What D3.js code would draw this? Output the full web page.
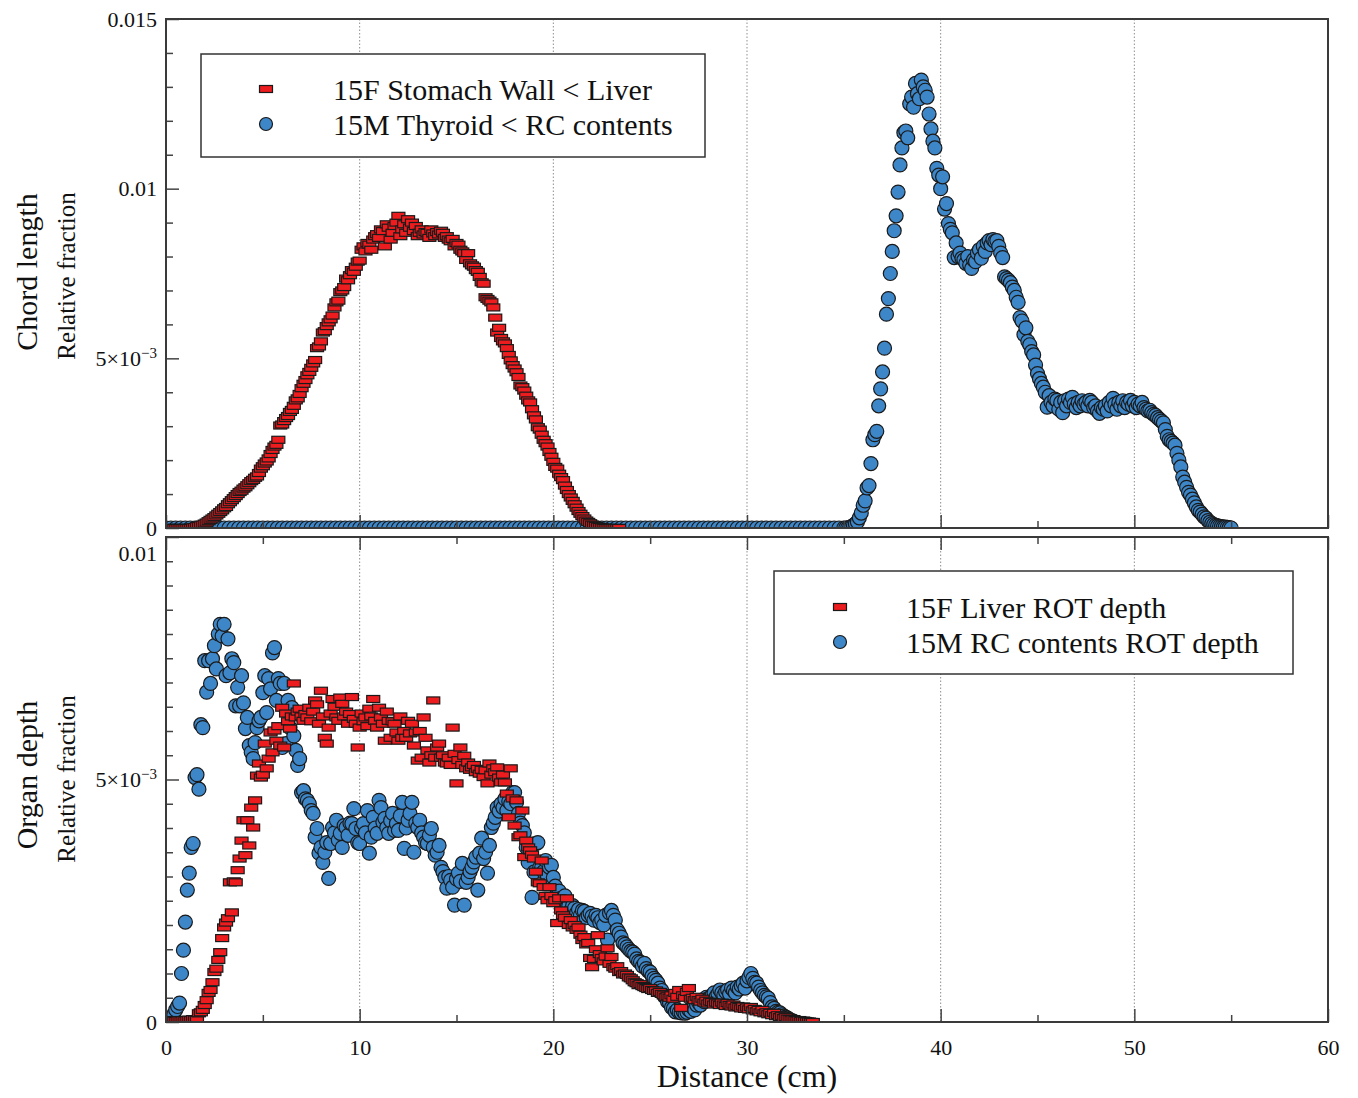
<!DOCTYPE html>
<html>
<head>
<meta charset="utf-8">
<script src="https://cdn.jsdelivr.net/npm/d3@7"></script>
<style>
  body { margin: 0; background: #fff; }
  svg text { font-family: "Liberation Serif", "Times New Roman", serif; fill: #111; }
</style>
</head>
<body>
<div id="chart"></div>
<script>
// ---- data (relative fraction in units of 1e-3, bins of 0.1 cm unless noted) ----
const xTickValues = [0, 10, 20, 30, 40, 50, 60];
const xMinorTicks = [5, 15, 25, 35, 45, 55];
const gridValues = [10, 20, 30, 40, 50];

const topYTicks = [0, 5, 10, 15];
const topYLabels = ["0", "5×10^−3", "0.01", "0.015"];
const topYMinor = [1, 2, 3, 4, 6, 7, 8, 9, 11, 12, 13, 14];
const bottomYTicks = [0, 5, 10];
const bottomYLabels = ["0", "5×10^−3", "0.01"];
const bottomYMinor = [0.5, 1, 1.5, 2, 2.5, 3, 3.5, 4, 4.5, 5.5, 6, 6.5, 7, 7.5, 8, 8.5, 9, 9.5];

const topLegend = ["15F Stomach Wall < Liver", "15M Thyroid < RC contents"];
const bottomLegend = ["15F Liver ROT depth", "15M RC contents ROT depth"];

const binStep = 0.1;

// chord length, 15F stomach wall < liver (x from 0.0)
const topRedStart = 0;
const topRed = [
  0, 0, 0, 0, 0, 0, 0, 0, 0, 0,
  0, 0, 0, 0, 0.02, 0.03, 0.05, 0.06, 0.08, 0.1,
  0.13, 0.16, 0.2, 0.24, 0.28, 0.32, 0.37, 0.42, 0.47, 0.52,
  0.58, 0.62, 0.7, 0.76, 0.82, 0.88, 0.94, 1.0, 1.06, 1.1,
  1.16, 1.2, 1.26, 1.32, 1.38, 1.42, 1.48, 1.52, 1.62, 1.75,
  1.82, 1.9, 1.96, 2.05, 2.18, 2.3, 2.4, 2.45, 2.6, 3.02,
  3.05, 3.15, 3.24, 3.3, 3.42, 3.48, 3.6, 3.76, 3.82, 3.95,
  4.12, 4.25, 4.36, 4.5, 4.6, 4.72, 4.85, 4.95, 5.3, 5.35,
  5.5, 5.76, 5.8, 5.95, 6.06, 6.15, 6.26, 6.5, 6.65, 6.7,
  6.95, 7.0, 7.1, 7.35, 7.3, 7.45, 7.6, 7.55, 7.7, 7.85,
  7.88, 8.2, 8.3, 8.15, 8.4, 8.35, 8.2, 8.5, 8.6, 8.66,
  8.55, 8.8, 8.75, 8.3, 8.95, 8.85, 8.5, 8.7, 8.9, 9.0,
  9.2, 8.6, 8.8, 8.95, 8.7, 9.1, 8.85, 9.0, 8.75, 8.9,
  8.6, 8.7, 8.8, 8.65, 8.72, 8.7, 8.55, 8.8, 8.68, 8.6,
  8.72, 8.65, 8.76, 8.7, 8.55, 8.6, 8.5, 8.45, 8.52, 8.3,
  8.4, 8.35, 8.2, 8.15, 8.1, 7.9, 8.1, 7.8, 7.74, 7.7,
  7.6, 7.55, 7.4, 7.24, 7.2, 6.8, 6.75, 6.7, 6.65, 6.5,
  6.2, 5.76, 5.9, 5.6, 5.5, 5.44, 5.3, 5.1, 4.94, 4.8,
  4.7, 4.59, 4.45, 4.2, 4.15, 4.05, 3.9, 3.76, 3.7, 3.5,
  3.32, 3.2, 2.97, 2.9, 2.75, 2.6, 2.5, 2.4, 2.24, 2.1,
  1.95, 1.8, 1.75, 1.6, 1.5, 1.41, 1.25, 1.12, 1.0, 0.9,
  0.8, 0.7, 0.6, 0.5, 0.42, 0.35, 0.28, 0.22, 0.18, 0.14,
  0.1, 0.08, 0.06, 0.04, 0.03, 0.02, 0.01, 0, 0, 0,
  0, 0, 0, 0, 0
];

// chord length, 15M thyroid < RC contents: empty bins 0-34.75 cm (0.25 cm apart), then from 35.0
const topBlueBaseStart = 0;
const topBlueBaseStep = 0.25;
const topBlueBase = [
  0, 0, 0, 0, 0, 0, 0, 0, 0, 0, 0, 0, 0, 0, 0, 0, 0, 0, 0, 0,
  0, 0, 0, 0, 0, 0, 0, 0, 0, 0, 0, 0, 0, 0, 0, 0, 0, 0, 0, 0,
  0, 0, 0, 0, 0, 0, 0, 0, 0, 0, 0, 0, 0, 0, 0, 0, 0, 0, 0, 0,
  0, 0, 0, 0, 0, 0, 0, 0, 0, 0, 0, 0, 0, 0, 0, 0, 0, 0, 0, 0,
  0, 0, 0, 0, 0, 0, 0, 0, 0, 0, 0, 0, 0, 0, 0, 0, 0, 0, 0, 0,
  0, 0, 0, 0, 0, 0, 0, 0, 0, 0, 0, 0, 0, 0, 0, 0, 0, 0, 0, 0,
  0, 0, 0, 0, 0, 0, 0, 0, 0, 0, 0, 0, 0, 0, 0, 0, 0, 0, 0, 0
];
const topBlueStart = 35;
const topBlue = [
  0, 0, 0, 0.02, 0.04, 0.08, 0.12, 0.18, 0.3, 0.44,
  0.67, 0.8, 1.18, 1.25, 1.9, 2.6, 2.75, 2.85, 3.6, 4.1,
  4.6, 5.3, 6.3, 6.76, 7.5, 8.15, 8.76, 9.2, 9.9, 10.7,
  11.2, 11.65, 11.7, 11.5, 12.5, 12.7, 12.4, 13.1, 12.8, 12.65,
  13.2, 13.0, 12.9, 12.7, 12.2, 11.76, 11.4, 11.2, 10.6, 10.4,
  10.0, 10.35, 9.4, 9.56, 8.97, 8.8, 8.7, 7.97, 8.4, 8.0,
  8.1, 7.95, 7.9, 7.8, 8.0, 7.75, 7.65, 7.9, 7.85, 8.1,
  8.2, 7.95, 8.3, 8.15, 8.4, 8.47, 8.35, 8.5, 8.45, 8.47,
  8.3, 8.1, 7.97, 7.4, 7.35, 7.3, 7.23, 7.1, 7.0, 6.8,
  6.65, 6.2, 6.1, 5.7, 5.9, 5.5, 5.4, 5.2, 5.1, 4.8,
  4.55, 4.4, 4.26, 4.15, 4.0, 3.56, 3.9, 3.7, 3.6, 3.8,
  3.76, 3.5, 3.7, 3.4, 3.75, 3.6, 3.8, 3.7, 3.85, 3.65,
  3.55, 3.7, 3.6, 3.75, 3.65, 3.7, 3.6, 3.76, 3.7, 3.55,
  3.6, 3.45, 3.38, 3.55, 3.5, 3.6, 3.45, 3.7, 3.6, 3.82,
  3.65, 3.5, 3.7, 3.6, 3.75, 3.55, 3.7, 3.65, 3.76, 3.6,
  3.7, 3.55, 3.65, 3.6, 3.7, 3.55, 3.5, 3.45, 3.47, 3.4,
  3.35, 3.32, 3.25, 3.2, 3.15, 3.1, 2.9, 2.7, 2.6, 2.55,
  2.5, 2.44, 2.2, 2.0, 1.8, 1.5, 1.35, 1.2, 1.05, 0.97,
  0.85, 0.74, 0.62, 0.52, 0.47, 0.4, 0.33, 0.29, 0.22, 0.17,
  0.13, 0.1, 0.08, 0.06, 0.05, 0.04, 0.03, 0.03, 0.02, 0.01,
  0
];

// organ depth, 15F liver ROT depth (x from 0.0)
const bottomRedStart = 0;
const bottomRed = [
  0.02, 0.03, 0.04, 0.02, 0.03, 0.02, 0.03, 0.04, 0.03, 0.04,
  0.03, 0.04, 0.05, 0.04, 0.06, 0.05, 0.04, 0.18, 0.2, 0.25,
  0.35, 0.45, 0.6, 0.66, 0.82, 1.03, 1.1, 1.28, 1.44, 1.73,
  1.95, 2.05, 2.14, 2.88, 2.26, 2.9, 2.88, 3.13, 3.37, 3.74,
  4.16, 3.44, 4.16, 3.64, 4.42, 4.01, 4.57, 5.08, 5.33, 5.04,
  5.1, 5.74, 5.23, 5.43, 5.97, 5.56, 6.01, 5.8, 6.1, 5.7,
  6.48, 5.66, 6.36, 6.2, 6.05, 6.3, 6.98, 6.28, 6.4, 6.46,
  6.3, 6.21, 6.35, 6.28, 6.48, 6.2, 6.4, 6.63, 6.55, 6.15,
  6.83, 6.3, 5.86, 5.74, 6.07, 6.36, 6.66, 6.5, 6.28, 6.21,
  6.69, 6.56, 6.3, 6.4, 6.15, 6.35, 6.7, 6.25, 6.15, 5.66,
  6.07, 6.36, 6.2, 6.28, 6.1, 6.46, 6.3, 6.66, 6.21, 6.07,
  6.48, 6.28, 6.15, 5.8, 6.4, 6.21, 5.86, 6.2, 6.15, 5.97,
  5.8, 6.3, 5.86, 6.0, 5.86, 6.21, 5.95, 6.15, 5.7, 5.97,
  5.39, 6.0, 5.45, 6.28, 5.86, 5.6, 5.35, 5.5, 6.63, 5.45,
  5.66, 5.74, 5.45, 5.5, 5.35, 5.33, 5.45, 5.3, 6.07, 5.53,
  4.92, 5.4, 5.66, 5.3, 5.49, 5.23, 5.35, 5.2, 5.25, 5.3,
  5.15, 5.22, 5.12, 5.2, 5.05, 5.19, 4.92, 5.33, 5.1, 5.23,
  5.15, 5.25, 5.04, 4.94, 5.1, 4.94, 4.71, 4.22, 5.23, 4.61,
  4.05, 4.57, 3.81, 3.85, 4.36, 3.4, 3.74, 3.6, 3.54, 3.45,
  3.37, 3.1, 2.88, 2.86, 3.33, 2.78, 2.6, 2.51, 2.78, 2.6,
  2.45, 2.51, 2.04, 2.55, 2.3, 2.2, 2.15, 2.55, 2.0, 2.1,
  1.95, 2.0, 1.9, 1.95, 1.8, 1.69, 1.75, 1.6, 1.63, 1.32,
  1.13, 1.3, 1.5, 1.79, 1.4, 1.32, 1.25, 1.35, 1.52, 1.2,
  1.34, 1.13, 1.1, 1.15, 1.03, 1.05, 0.98, 1.0, 0.97, 0.92,
  0.9, 0.86, 0.82, 0.8, 0.76, 0.78, 0.74, 0.72, 0.7, 0.68,
  0.7, 0.66, 0.64, 0.65, 0.6, 0.62, 0.58, 0.55, 0.51, 0.53,
  0.5, 0.55, 0.48, 0.6, 0.52, 0.66, 0.29, 0.55, 0.5, 0.62,
  0.7, 0.48, 0.5, 0.45, 0.52, 0.45, 0.42, 0.48, 0.4, 0.44,
  0.38, 0.42, 0.41, 0.36, 0.4, 0.38, 0.35, 0.4, 0.36, 0.33,
  0.39, 0.35, 0.32, 0.36, 0.3, 0.33, 0.31, 0.28, 0.32, 0.27,
  0.3, 0.26, 0.31, 0.24, 0.27, 0.22, 0.25, 0.2, 0.25, 0.18,
  0.2, 0.16, 0.19, 0.14, 0.19, 0.12, 0.14, 0.1, 0.12, 0.08,
  0.1, 0.07, 0.06, 0.05, 0.06, 0.04, 0.03, 0.04, 0.02, 0.03,
  0.02, 0.01, 0.01, 0, 0
];

// organ depth, 15M RC contents ROT depth (x from 0.0)
const bottomBlueStart = 0;
const bottomBlue = [
  0.05, 0.08, 0.04, 0.1, 0.15, 0.25, 0.32, 0.39, 1.0, 1.48,
  2.06, 2.72, 3.07, 3.6, 3.68, 5.04, 5.1, 4.8, 6.13, 6.07,
  7.45, 6.8, 7.45, 6.98, 7.49, 7.76, 7.28, 8.0, 8.2, 7.96,
  8.2, 7.14, 7.9, 7.2, 7.49, 7.41, 6.52, 6.9, 6.52, 7.14,
  6.58, 6.05, 6.28, 5.7, 5.56, 5.43, 5.76, 6.07, 6.21, 6.28,
  6.79, 7.14, 6.38, 7.08, 6.87, 7.61, 7.72, 6.63, 7.08, 6.98,
  5.66, 6.98, 5.74, 6.63, 6.07, 6.48, 5.9, 5.6, 5.29, 5.43,
  4.73, 4.77, 4.6, 4.57, 4.5, 4.36, 4.3, 3.81, 3.99, 3.48,
  3.6, 3.29, 3.5, 3.7, 2.96, 3.68, 4.01, 3.9, 4.16, 3.75,
  3.89, 3.6, 4.05, 4.01, 3.85, 4.1, 4.09, 4.4, 3.99, 3.7,
  3.68, 4.0, 4.09, 3.9, 4.36, 3.48, 3.81, 4.22, 4.0, 3.89,
  4.57, 4.42, 4.12, 4.2, 4.01, 3.89, 4.15, 4.3, 3.95, 4.09,
  3.95, 4.25, 4.53, 3.58, 4.0, 4.16, 4.3, 4.53, 3.5, 4.1,
  4.01, 4.16, 3.9, 3.81, 3.7, 3.68, 3.85, 3.99, 3.6, 3.44,
  3.5, 3.64, 3.19, 3.1, 2.98, 2.76, 3.0, 2.92, 2.78, 2.41,
  2.95, 3.07, 2.9, 3.27, 2.41, 2.88, 2.98, 3.1, 3.19, 3.3,
  3.4, 2.72, 3.48, 3.79, 3.37, 3.5, 3.07, 3.64, 4.01, 4.1,
  4.22, 4.42, 4.35, 4.5, 4.42, 4.6, 4.36, 4.55, 4.5, 4.73,
  4.73, 4.53, 4.3, 4.1, 4.05, 3.9, 3.6, 3.29, 3.48, 2.57,
  3.09, 3.68, 3.7, 3.19, 3.19, 3.1, 3.33, 3.0, 3.19, 3.23,
  2.98, 2.8, 2.65, 2.7, 2.55, 2.5, 2.6, 2.45, 2.4, 2.3,
  2.4, 2.35, 2.25, 2.32, 2.2, 2.3, 2.28, 2.15, 2.2, 2.24,
  2.18, 2.1, 2.2, 2.15, 2.05, 2.1, 2.0, 2.2, 1.69, 2.25,
  2.3, 2.2, 2.1, 1.9, 1.83, 1.75, 1.63, 1.6, 1.55, 1.5,
  1.46, 1.44, 1.4, 1.3, 1.25, 1.23, 1.15, 1.21, 1.1, 1.05,
  1.03, 0.95, 0.9, 0.86, 0.8, 0.7, 0.65, 0.55, 0.5, 0.42,
  0.39, 0.3, 0.28, 0.21, 0.25, 0.2, 0.19, 0.22, 0.18, 0.2,
  0.25, 0.22, 0.3, 0.25, 0.35, 0.4, 0.35, 0.45, 0.42, 0.51,
  0.48, 0.5, 0.55, 0.6, 0.52, 0.58, 0.66, 0.6, 0.55, 0.62,
  0.66, 0.58, 0.7, 0.65, 0.6, 0.72, 0.68, 0.75, 0.8, 0.7,
  0.85, 0.92, 1.0, 0.9, 0.82, 0.8, 0.72, 0.65, 0.6, 0.55,
  0.52, 0.49, 0.4, 0.31, 0.28, 0.22, 0.2, 0.19, 0.15, 0.12,
  0.1, 0.08, 0.05, 0.03, 0.02
];

// ---- drawing ----
const width = 1358, height = 1098;
const blueFill = "#3d86c8", redFill = "#ec1c1f", markStroke = "#1a1a1a";

function toPoints(start, step, values) {
  return values.map((v, i) => ({ x: start + i * step, y: v }));
}

const svg = d3.select("#chart").append("svg")
  .attr("width", width)
  .attr("height", height);

const x = d3.scaleLinear().domain([0, 60]).range([166, 1328]);

class PanelVis {
  constructor(svg, cfg) {
    this.svg = svg;
    this.cfg = cfg;
    this.initVis();
  }

  initVis() {
    let vis = this;
    let c = vis.cfg;

    vis.y = d3.scaleLinear().domain(c.yDomain).range([c.bottom, c.top]);
    vis.g = vis.svg.append("g").attr("class", c.id);

    vis.g.append("clipPath").attr("id", c.id + "-clip")
      .append("rect")
      .attr("x", x(0)).attr("y", c.top)
      .attr("width", x(60) - x(0)).attr("height", c.bottom - c.top);

    // dotted vertical grid
    vis.g.append("g").selectAll("line")
      .data(gridValues).join("line")
      .attr("x1", d => x(d)).attr("x2", d => x(d))
      .attr("y1", c.top).attr("y2", c.bottom)
      .attr("stroke", "#8e8e8e")
      .attr("stroke-width", 1)
      .attr("stroke-dasharray", "1.5,2");

    let marks = vis.g.append("g").attr("clip-path", `url(#${c.id}-clip)`);

    marks.append("g").selectAll("circle")
      .data(c.blue).join("circle")
      .attr("cx", d => x(d.x))
      .attr("cy", d => vis.y(d.y))
      .attr("r", 7)
      .attr("fill", blueFill)
      .attr("stroke", markStroke)
      .attr("stroke-width", 1.2);

    marks.append("g").selectAll("rect")
      .data(c.red).join("rect")
      .attr("x", d => x(d.x) - 6.5)
      .attr("y", d => vis.y(d.y) - 3.5)
      .attr("width", 13)
      .attr("height", 7)
      .attr("fill", redFill)
      .attr("stroke", markStroke)
      .attr("stroke-width", 1.2);

    // y axis, ticks pointing inward
    let yAxis = vis.g.append("g")
      .attr("transform", `translate(${x(0)},0)`)
      .call(d3.axisLeft(vis.y).tickValues(c.yTicks).tickSize(-13).tickSizeOuter(0).tickPadding(9)
        .tickFormat((d, i) => c.yLabels[i]));
    vis.g.append("g")
      .attr("transform", `translate(${x(0)},0)`)
      .call(d3.axisLeft(vis.y).tickValues(c.yMinor).tickSize(-7).tickSizeOuter(0).tickFormat(""));

    yAxis.selectAll("text").each(function (d, i) {
      let parts = c.yLabels[i].split("^");
      let t = d3.select(this).text(parts[0]);
      if (parts[1]) {
        t.append("tspan").attr("dy", "-0.55em").attr("font-size", "15px").text(parts[1]);
      }
      if (d === c.yDomain[1] && c.topLabelShift) {
        t.attr("y", c.topLabelShift);
      }
    });

    // x axis
    vis.g.append("g")
      .attr("transform", `translate(0,${c.bottom})`)
      .call(d3.axisBottom(x).tickValues(xTickValues).tickSize(-13).tickSizeOuter(0).tickPadding(17)
        .tickFormat(c.xLabels ? d3.format("d") : ""));
    vis.g.append("g")
      .attr("transform", `translate(0,${c.bottom})`)
      .call(d3.axisBottom(x).tickValues(xMinorTicks).tickSize(-7).tickSizeOuter(0).tickFormat(""));

    // mirrored ticks on the top edge
    if (c.topTicks) {
      vis.g.append("g")
        .attr("transform", `translate(0,${c.top})`)
        .call(d3.axisTop(x).tickValues(xTickValues).tickSize(-13).tickSizeOuter(0).tickFormat(""));
      vis.g.append("g")
        .attr("transform", `translate(0,${c.top})`)
        .call(d3.axisTop(x).tickValues(xMinorTicks).tickSize(-7).tickSizeOuter(0).tickFormat(""));
    }

    vis.g.selectAll(".domain").remove();
    vis.g.selectAll(".tick line").attr("stroke", "#444").attr("stroke-width", 1.5);
    vis.g.selectAll(".tick text").attr("font-size", "22px").attr("fill", "#111");

    // frame
    vis.g.append("rect")
      .attr("x", x(0)).attr("y", c.top)
      .attr("width", x(60) - x(0)).attr("height", c.bottom - c.top)
      .attr("fill", "none")
      .attr("stroke", "#3a3a3a")
      .attr("stroke-width", 2);

    // side titles
    vis.g.append("text")
      .attr("transform", `translate(37,${c.titleY}) rotate(-90)`)
      .attr("text-anchor", "middle")
      .attr("font-size", "30px")
      .text(c.title);
    vis.g.append("text")
      .attr("transform", `translate(75,${c.titleY + 4}) rotate(-90)`)
      .attr("text-anchor", "middle")
      .attr("font-size", "25px")
      .text("Relative fraction");

    vis.drawLegend();
  }

  drawLegend() {
    let vis = this;
    let L = vis.cfg.legend;
    let lg = vis.g.append("g").attr("transform", `translate(${L.x},${L.y})`);

    lg.append("rect")
      .attr("width", L.w).attr("height", L.h)
      .attr("fill", "#fff")
      .attr("stroke", "#333")
      .attr("stroke-width", 1.5);

    let rows = lg.selectAll("g.row").data(L.labels).join("g")
      .attr("class", "row")
      .attr("transform", (d, i) => `translate(0,${L.row0 + i * 35})`);

    rows.filter((d, i) => i === 0).append("rect")
      .attr("x", L.mx - 6.5).attr("y", -3.5)
      .attr("width", 13).attr("height", 7)
      .attr("fill", redFill).attr("stroke", markStroke).attr("stroke-width", 1.2);
    rows.filter((d, i) => i === 1).append("circle")
      .attr("cx", L.mx).attr("r", 6.5)
      .attr("fill", blueFill).attr("stroke", markStroke).attr("stroke-width", 1.2);

    rows.append("text")
      .attr("x", L.tx)
      .attr("dy", "0.35em")
      .attr("font-size", "30px")
      .text(d => d);
  }
}

new PanelVis(svg, {
  id: "chord",
  top: 19, bottom: 528,
  yDomain: [0, 15],
  yTicks: topYTicks, yLabels: topYLabels, yMinor: topYMinor,
  xLabels: false, topTicks: false,
  title: "Chord length", titleY: 272,
  blue: toPoints(topBlueBaseStart, topBlueBaseStep, topBlueBase).concat(toPoints(topBlueStart, binStep, topBlue)),
  red: toPoints(topRedStart, binStep, topRed),
  legend: { x: 201, y: 54, w: 504, h: 103, row0: 35, mx: 65, tx: 132, labels: topLegend }
});

new PanelVis(svg, {
  id: "depth",
  top: 537, bottom: 1022,
  yDomain: [0, 10],
  yTicks: bottomYTicks, yLabels: bottomYLabels, yMinor: bottomYMinor,
  topLabelShift: 16,
  xLabels: true, topTicks: true,
  title: "Organ depth", titleY: 775,
  blue: toPoints(bottomBlueStart, binStep, bottomBlue),
  red: toPoints(bottomRedStart, binStep, bottomRed),
  legend: { x: 774, y: 571, w: 519, h: 103, row0: 36, mx: 66, tx: 132, labels: bottomLegend }
});

svg.append("text")
  .attr("x", x(30))
  .attr("y", 1087)
  .attr("text-anchor", "middle")
  .attr("font-size", "32px")
  .text("Distance (cm)");
</script>
</body>
</html>
